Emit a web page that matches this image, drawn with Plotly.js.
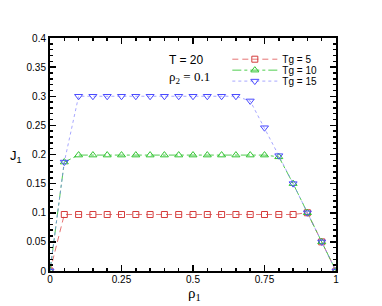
<!DOCTYPE html>
<html><head><meta charset="utf-8">
<script src="https://cdn.plot.ly/plotly-3.0.1.min.js"></script>
<style>html,body{margin:0;padding:0;background:#fff}#plot{width:382px;height:306px}</style>
</head><body><div id="plot"></div>
<script>
const rho = [0,0.05,0.1,0.15,0.2,0.25,0.3,0.35,0.4,0.45,0.5,0.55,0.6,0.65,0.7,0.75,0.8,0.85,0.9,0.95,1];
const J_tg5  = [0,0.097,0.097,0.097,0.097,0.097,0.097,0.097,0.097,0.097,0.097,0.097,0.097,0.097,0.097,0.097,0.097,0.097,0.1,0.05,0];
const J_tg10 = [0,0.187,0.199,0.199,0.199,0.199,0.199,0.199,0.199,0.199,0.199,0.199,0.199,0.199,0.199,0.199,0.196,0.15,0.1,0.05,0];
const J_tg15 = [0,0.187,0.3,0.3,0.3,0.3,0.3,0.3,0.3,0.3,0.3,0.3,0.3,0.3,0.292,0.246,0.198,0.15,0.1,0.05,0];
const names = ['Tg = 5','Tg = 10','Tg = 15'];
const xTicks = [0,0.25,0.5,0.75,1];
const xTickText = ['0','0.25','0.5','0.75','1'];
const yTicks = [0,0.05,0.1,0.15,0.2,0.25,0.3,0.35,0.4];
const yTickText = ['0','0.05','0.1','0.15','0.2','0.25','0.3','0.35','0.4'];

const traces = [
  {x: rho, y: J_tg5, name: names[0], mode: 'lines+markers', legend: 'legend',
   line: {color: 'rgba(225,90,90,0.85)', width: 1, dash: '6px,4px'},
   marker: {symbol: 'square-open', size: 6, color: '#d43c3c', line: {width: 1}}},
  {x: rho, y: J_tg10, name: names[1], mode: 'lines+markers', legend: 'legend2',
   line: {color: 'rgba(60,200,60,0.9)', width: 1, dash: 'dashdot'},
   marker: {symbol: 'triangle-up-open', size: 7, color: '#33c433', line: {width: 1}}},
  {x: rho, y: J_tg15, name: names[2], mode: 'lines+markers', legend: 'legend3',
   line: {color: 'rgba(130,130,255,0.7)', width: 1, dash: 'dot'},
   marker: {symbol: 'triangle-down-open', size: 7, color: '#4a4aff', line: {width: 1}}}
];

const axisCommon = {
  showline: true, linewidth: 2, linecolor: '#000', mirror: 'allticks',
  ticks: 'inside', ticklen: 6, tickwidth: 1.5, tickcolor: '#000',
  showgrid: false, zeroline: false,
  tickfont: {family: 'Liberation Sans, Arial, sans-serif', size: 10, color: '#000'}
};

function legendAt(y) {
  return {x: 0.62, y: y, xanchor: 'left', yanchor: 'middle', bgcolor: 'rgba(0,0,0,0)',
          font: {family: 'Liberation Sans, Arial, sans-serif', size: 10, color: '#000'},
          itemwidth: 45, borderwidth: 0};
}

const layout = {
  width: 382, height: 306,
  margin: {l: 50, r: 46, t: 38, b: 35},
  paper_bgcolor: '#fff', plot_bgcolor: '#fff',
  showlegend: true,
  legend: legendAt(0.909),
  legend2: legendAt(0.862),
  legend3: legendAt(0.815),
  xaxis: Object.assign({}, axisCommon, {range: [0, 1], tickvals: xTicks, ticktext: xTickText,
    ticklabelstandoff: -2,
    minor: {ticks: 'inside', dtick: 0.05, tick0: 0, ticklen: 3, tickcolor: '#000', showgrid: false}}),
  yaxis: Object.assign({}, axisCommon, {range: [0, 0.4], tickvals: yTicks, ticktext: yTickText,
    minor: {ticks: 'inside', dtick: 0.01, tick0: 0, ticklen: 3, tickcolor: '#000', showgrid: false}}),
  annotations: [
    {xref: 'paper', yref: 'paper', x: -0.09, y: 0.49, xanchor: 'right', yanchor: 'middle', showarrow: false,
     text: 'J<sub>1</sub>', font: {family: 'Liberation Sans, Arial, sans-serif', size: 13, color: '#000'}},
    {xref: 'paper', yref: 'paper', x: 0.505, y: -0.056, xanchor: 'center', yanchor: 'top', showarrow: false,
     borderpad: 0,
     text: 'ρ<sub>1</sub>', font: {family: 'Liberation Serif, Times New Roman, serif', size: 15, color: '#000'}},
    {xref: 'paper', yref: 'paper', x: 0.41, y: 0.905, xanchor: 'left', yanchor: 'middle', showarrow: false,
     text: 'T = 20', font: {family: 'Liberation Sans, Arial, sans-serif', size: 12, color: '#000'}},
    {xref: 'paper', yref: 'paper', x: 0.41, y: 0.83, xanchor: 'left', yanchor: 'middle', showarrow: false,
     text: 'ρ<sub>2</sub> = 0.1', font: {family: 'Liberation Serif, Times New Roman, serif', size: 13, color: '#000'}}
  ]
};

Plotly.newPlot('plot', traces, layout, {displayModeBar: false, staticPlot: true});
</script></body></html>
